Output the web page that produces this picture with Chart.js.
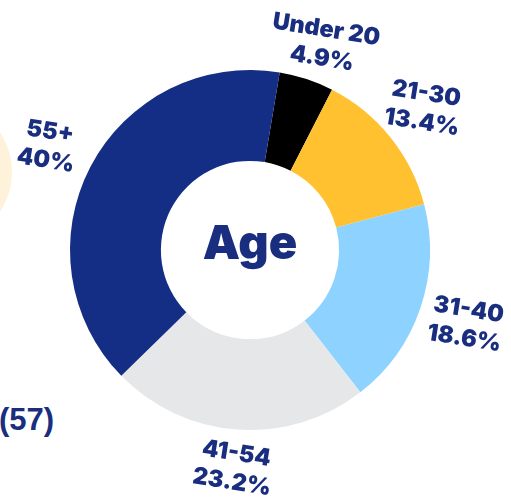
<!DOCTYPE html>
<html>
<head>
<meta charset="utf-8">
<script src="https://cdn.jsdelivr.net/npm/chart.js@4.4.1/dist/chart.umd.min.js"></script>
<style>
  html, body { margin: 0; padding: 0; background: #fff; overflow: hidden; }
  #wrap { position: relative; width: 511px; height: 500px; }
  #chart { position: absolute; left: 0; top: 0; }
  .blob { position: absolute; left: -132px; top: 100px; width: 144px; height: 144px; border-radius: 50%; background: #fff2da; }
  .side { position: absolute; left: -1px; top: 402px; font: bold 31px "Liberation Sans", Arial, sans-serif; color: #1a2e80; }
</style>
</head>
<body>
<div id="wrap">
  <div class="blob"></div>
  <div class="side">(57)</div>
  <canvas id="chart" width="511" height="500"></canvas>
</div>
<script>
// Age breakdown doughnut
const LABELS = ['Under 20', '21-30', '31-40', '41-54', '55+'];
const VALUES = [4.9, 13.4, 18.6, 23.2, 40];
const VALUE_TEXT = ['4.9%', '13.4%', '18.6%', '23.2%', '40%'];
const COLORS = ['#000000', '#ffc12f', '#8ed3ff', '#e6e7e8', '#152e85'];

const NAVY = '#1a2e80';

// draws the rotated two-line labels outside each slice + the centre title
const outerLabels = {
  id: 'outerLabels',
  afterDraw(chart, args, opts) {
    const ctx = chart.ctx;
    const arcs = chart.getDatasetMeta(0).data;
    ctx.save();
    ctx.fillStyle = NAVY;
    ctx.textAlign = 'center';
    ctx.textBaseline = 'middle';
    arcs.forEach((arc, i) => {
      const mid = (arc.startAngle + arc.endAngle) / 2 + (opts.nudge[i] || 0) * Math.PI / 180;
      const x = arc.x + Math.cos(mid) * (arc.outerRadius + 50);
      const y = arc.y + Math.sin(mid) * (arc.outerRadius + 38);
      ctx.save();
      ctx.translate(x, y);
      ctx.rotate(9 * Math.PI / 180);
      ctx.font = '900 23.5px Inter, sans-serif';
      ctx.fillText(LABELS[i], 0, -14);
      ctx.fillText(VALUE_TEXT[i], 0, 15);
      ctx.restore();
    });
    const a = arcs[0];
    ctx.font = '900 47px Inter, sans-serif';
    ctx.fillText('Age', a.x, a.y - 5);
    ctx.restore();
  }
};

new Chart(document.getElementById('chart').getContext('2d'), {
  type: 'doughnut',
  data: {
    labels: LABELS,
    datasets: [{ data: VALUES, backgroundColor: COLORS, borderWidth: 0 }]
  },
  options: {
    responsive: false,
    animation: false,
    cutout: '49.5%',
    rotation: 9.5,
    layout: { padding: { left: 65, right: 76, top: 70, bottom: 70 } },
    plugins: {
      legend: { display: false },
      tooltip: { enabled: false },
      outerLabels: { nudge: [0.5, -2, 1, 0, 1] }
    }
  },
  plugins: [outerLabels]
});
</script>
</body>
</html>
